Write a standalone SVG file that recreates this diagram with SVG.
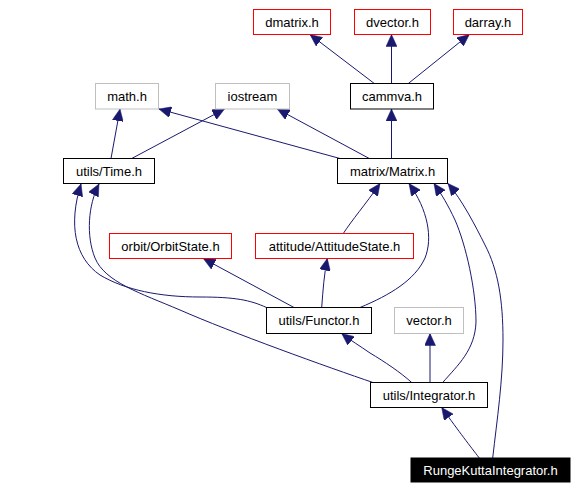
<svg xmlns="http://www.w3.org/2000/svg" width="577" height="489" viewBox="0 0 577 489">
<style>
  .n rect { fill: #ffffff; stroke-width: 1; }
  .blk rect { stroke: #000000; }
  .red rect { stroke: #ff0000; }
  .gry rect { stroke: #bfbfbf; }
  .cur rect { fill: #000000; stroke: #000000; }
  .n text { font-family: "Liberation Sans", Arial, Helvetica, sans-serif; font-size: 13px; text-anchor: middle; fill: #000000; }
  .cur text { fill: #ffffff; }
  #edges path { fill: none; stroke: #191970; stroke-width: 1; marker-end: url(#arr); }
</style>
<defs>
  <marker id="arr" viewBox="0 0 12 11" refX="12" refY="5.5" markerWidth="12" markerHeight="11" markerUnits="userSpaceOnUse" orient="auto">
    <path d="M0,0 L12,5.5 L0,11 z" fill="#191970" stroke="#191970" stroke-width="0.5"/>
  </marker>
</defs>
<rect width="577" height="489" fill="#ffffff"/>
<g id="edges">
  <path d="M374.3,83.5 L310,34.5"/>
  <path d="M391.5,83.5 L391.5,34.5"/>
  <path d="M408.3,83.5 L469.3,34.5"/>
  <path d="M111,158.5 L120,109"/>
  <path d="M131.7,158.5 L224.5,109"/>
  <path d="M340,158.5 L159,109"/>
  <path d="M369.3,158.5 L277.3,109"/>
  <path d="M391.5,158.5 L391.5,109"/>
  <path d="M266.5,307.5 C250,300 235,297 200,297 C160,297 125,290 100,275 C75,258 68,225 81,184"/>
  <path d="M373,382.5 C330,368 230,332 180,310 C140,293 105,282 95,258 C86,236 88,205 99,184"/>
  <path d="M294,307.5 L203.3,258.5"/>
  <path d="M321.7,307.5 C323,290 324,275 327.3,258.5"/>
  <path d="M343.3,233.5 C352,220 365,205 380,183.5"/>
  <path d="M360,307.5 C390,295 415,280 425,258 C433,238 428,210 409,183.5"/>
  <path d="M442.7,382.5 C458,365 475,350 476,322 C476,290 466,245 455,220 C448,205 442,195 434,183.5"/>
  <path d="M492.7,458 C497,420 503,380 503,340 C503,300 498,270 485,245 C475,225 462,200 448,183.5"/>
  <path d="M411.7,382.5 C400,372 385,362 370,353 C360,346 350,340 341.7,333.5"/>
  <path d="M430,382.5 L430,333.5"/>
  <path d="M479.3,458 C470,446 460,433 441.7,407.5"/>
</g>
<g id="dmatrix" class="n red"><rect x="253.5" y="9.5" width="77" height="25"/><text x="292" y="26.5">dmatrix.h</text></g>
<g id="dvector" class="n red"><rect x="354.5" y="9.5" width="76" height="25"/><text x="392.5" y="26.5">dvector.h</text></g>
<g id="darray" class="n red"><rect x="453.5" y="9.5" width="69" height="25"/><text x="488" y="26.5">darray.h</text></g>
<g id="math" class="n gry"><rect x="95.5" y="83.5" width="63" height="25.5"/><text x="127" y="100.7">math.h</text></g>
<g id="iostream" class="n gry"><rect x="215.5" y="83.5" width="74" height="25.5"/><text x="252.5" y="100.7">iostream</text></g>
<g id="cammva" class="n blk"><rect x="350.5" y="83.5" width="83" height="25.5"/><text x="392" y="100.7">cammva.h</text></g>
<g id="time" class="n blk"><rect x="63.5" y="158.5" width="91" height="25"/><text x="109" y="175.5">utils/Time.h</text></g>
<g id="matrix" class="n blk"><rect x="337.5" y="158.5" width="110" height="25"/><text x="392.5" y="175.5">matrix/Matrix.h</text></g>
<g id="orbitstate" class="n red"><rect x="109.5" y="233.5" width="122" height="25"/><text x="170.5" y="250.5">orbit/OrbitState.h</text></g>
<g id="attitudestate" class="n red"><rect x="255.5" y="233.5" width="158" height="25"/><text x="334.5" y="250.5">attitude/AttitudeState.h</text></g>
<g id="functor" class="n blk"><rect x="266.5" y="307.5" width="105" height="26"/><text x="319" y="325">utils/Functor.h</text></g>
<g id="vector" class="n gry"><rect x="394.5" y="307.5" width="69" height="26"/><text x="429" y="325">vector.h</text></g>
<g id="integrator" class="n blk"><rect x="370.5" y="382.5" width="117" height="25"/><text x="429" y="399.5">utils/Integrator.h</text></g>
<g id="rungekutta" class="n cur"><rect x="411" y="458" width="159" height="24"/><text x="490.5" y="474.5">RungeKuttaIntegrator.h</text></g>
</svg>
